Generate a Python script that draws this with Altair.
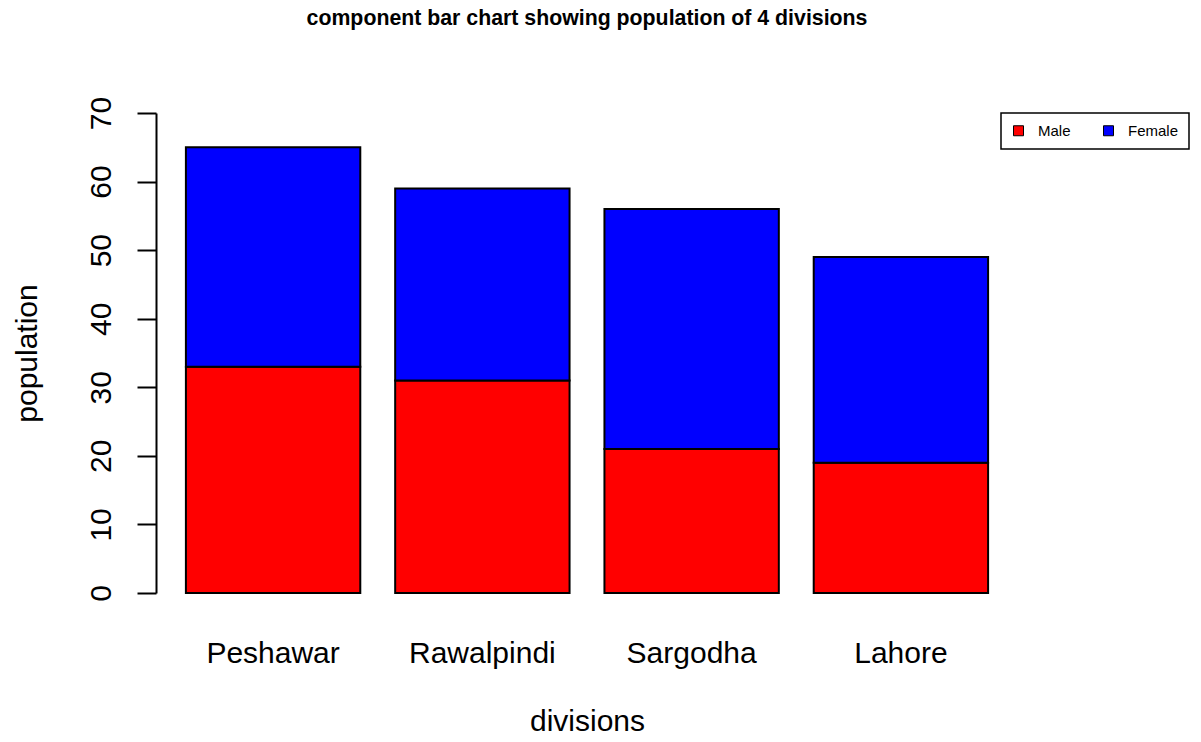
import altair as alt
import pandas as pd

divisions = ["Peshawar", "Rawalpindi", "Sargodha", "Lahore"]
male = [33, 31, 21, 19]
female = [32, 28, 35, 30]
sexes = ["Male", "Female"]
colors = ["#FF0000", "#0000FF"]
y_ticks = [0, 10, 20, 30, 40, 50, 60, 70]

rows = []
for d, m, f in zip(divisions, male, female):
    rows.append({"division": d, "sex": "Male", "order": 0, "population": m})
    rows.append({"division": d, "sex": "Female", "order": 1, "population": f})
df = pd.DataFrame(rows)

FONT = "Liberation Sans"

bars = alt.Chart(df).mark_bar(stroke="black", strokeWidth=2, opacity=1).encode(
    x=alt.X(
        "division:N",
        sort=divisions,
        scale=alt.Scale(paddingInner=0.1667, paddingOuter=0.1429),
        axis=alt.Axis(
            title="divisions",
            labelAngle=0,
            domain=False,
            ticks=False,
            tickSize=0,
            labelFont=FONT,
            labelFontSize=30,
            labelColor="black",
            labelBaseline="alphabetic",
            labelPadding=69,
            titleFont=FONT,
            titleFontSize=30,
            titleFontWeight="normal",
            titleColor="black",
            titleX=431,
            titleY=137,
            titleAlign="center",
            titleBaseline="alphabetic",
        ),
    ),
    y=alt.Y(
        "population:Q",
        stack="zero",
        scale=alt.Scale(domain=[0, 70], nice=False),
        axis=alt.Axis(
            title="population",
            values=y_ticks,
            grid=False,
            domainColor="black",
            domainWidth=2,
            tickColor="black",
            tickWidth=2,
            tickSize=19,
            labelAngle=270,
            labelAlign="center",
            labelBaseline="alphabetic",
            labelPadding=27,
            labelFont=FONT,
            labelFontSize=30,
            labelColor="black",
            titleFont=FONT,
            titleFontSize=30,
            titleFontWeight="normal",
            titleColor="black",
            titleAngle=270,
            titleX=-120,
            titleY=240,
            titleAlign="center",
            titleBaseline="alphabetic",
        ),
    ),
    color=alt.Color(
        "sex:N",
        scale=alt.Scale(domain=sexes, range=colors),
        legend=alt.Legend(
            title=None,
            orient="none",
            legendX=845,
            legendY=0,
            direction="horizontal",
            symbolType="square",
            symbolSize=100,
            symbolStrokeColor="black",
            symbolStrokeWidth=1,
            symbolOpacity=1,
            labelFont=FONT,
            labelFontSize=15,
            labelColor="black",
            labelOffset=12,
            columnPadding=30,
            padding=10,
            strokeColor="black",
        ),
    ),
    order=alt.Order("order:Q"),
)

chart = bars.properties(
    width=862,
    height=480,
    title=alt.TitleParams(
        text="component bar chart showing population of 4 divisions",
        font=FONT,
        fontSize=21.3,
        fontWeight="bold",
        color="black",
        anchor="middle",
        baseline="alphabetic",
        offset=50,
    ),
    autosize=alt.AutoSizeParams(type="none"),
    padding={"left": 148, "top": 105, "right": 175, "bottom": 149},
).configure(background="white").configure_view(stroke=None).configure_legend(strokeWidth=1.5)

chart.save("out.html", embed_options={"renderer": "svg", "actions": False})
